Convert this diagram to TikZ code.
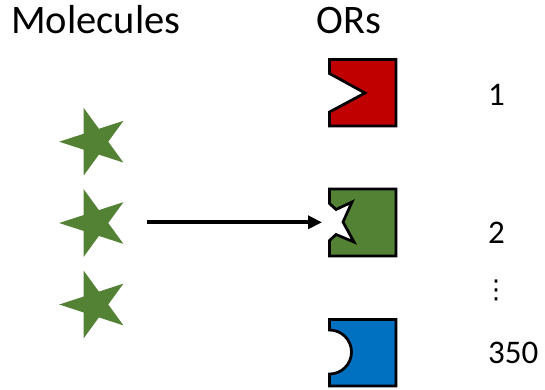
\documentclass[tikz,border=0pt]{standalone}
\usepackage{fontspec}
\setmainfont{Carlito}
\newfontfamily\symfont{DejaVu Sans}
\usetikzlibrary{arrows.meta,shapes.geometric}
\definecolor{molgreen}{HTML}{548235}
\definecolor{orred}{HTML}{C00000}
\definecolor{orblue}{HTML}{0070C0}
\begin{document}
\begin{tikzpicture}[x=1pt,y=-1pt,
  molecule/.style={star, star points=5, star point ratio=2.618, shape border rotate=90,
    minimum size=71pt, inner sep=0pt, fill=molgreen, draw=none},
  receptor/.style={draw=black, line width=2.75pt, line join=miter},
  header/.style={font=\fontsize{40.5}{48}\selectfont, anchor=base west, inner sep=0pt},
  orlabel/.style={font=\fontsize{33}{40}\selectfont, anchor=base west, inner sep=0pt},
  bind/.style={-{Triangle[length=14pt,width=13pt]}, line width=4pt}
]
\useasboundingbox (0,0) rectangle (545,389);

% headers
\node[header] (hmol) at (11,33) {Molecules};
\node[header] (hor) at (316,33) {ORs};

% molecules
\node[molecule] (m1) at (94.7,141.7) {};
\node[molecule] (m2) at (94.7,223) {};
\node[molecule] (m3) at (94.7,304.5) {};

% receptors
\draw[receptor, fill=orred] (329.5,59.5) -- (396,59.5) -- (396,126) -- (329.5,126)
  -- (329.5,112) -- (365,93) -- (329.5,73.5) -- cycle;
\draw[receptor, fill=molgreen] (329.5,189) -- (396,189) -- (396,256) -- (329.5,256)
  -- (329.5,240.5) -- (336,234.5) -- (354,242) -- (343,222) -- (352,202)
  -- (336,209.5) -- (329.5,203.5) -- cycle;
\draw[receptor, fill=orblue] (329.5,319.5) -- (396,319.5) -- (396,386) -- (329.5,386)
  -- (329.5,374) arc[start angle=-90, end angle=90, radius=22pt] -- cycle;

% binding arrow
\coordinate (astart) at (147,222.3);
\coordinate (site2) at (322,222.3);
\draw[bind] (astart) -- (site2);

% numbers
\node[orlabel] (n1) at (488,105) {1};
\node[orlabel] (n2) at (488,243.5) {2};
\node[font=\symfont\fontsize{26}{30}\selectfont, inner sep=0pt] (ndots) at (496,290) {⋮};
\node[orlabel] (n350) at (488,363) {350};
\end{tikzpicture}
\end{document}
